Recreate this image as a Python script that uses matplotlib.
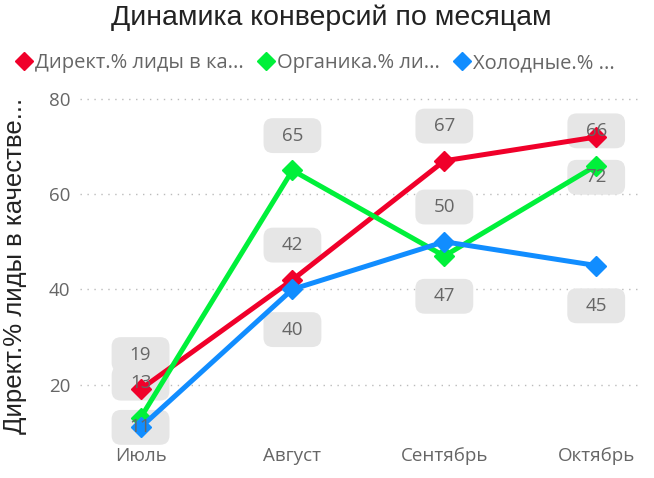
import matplotlib.pyplot as plt
from matplotlib.lines import Line2D

# Данные графика
месяцы = ['Июль', 'Август', 'Сентябрь', 'Октябрь']
директ = [19, 42, 67, 72]
органика = [13, 65, 47, 66]
холодные = [11, 40, 50, 45]

# подписи в легенде (обрезаны как в Power BI)
легенда = ['Директ.% лиды в ка...', 'Органика.% ли...', 'Холодные.% ...']
цвета = ['#F0002A', '#00F03A', '#118DFF']

# куда ставить подпись: 1 - над точкой, -1 - под точкой, 0 - на точке
направления = [
    [1, 1, 1, -1],   # директ
    [1, 1, -1, 1],   # органика
    [0, -1, 1, -1],  # холодные
]

fig = plt.figure(figsize=(6.54, 4.78), dpi=100)
ax = fig.add_axes([0.122, 0.086, 0.857, 0.715])

x = range(len(месяцы))
for ряд, цвет in zip([директ, органика, холодные], цвета):
    ax.plot(x, ряд, color=цвет, lw=3.6, marker='D', markersize=10,
            solid_joinstyle='miter', zorder=3)

# подписи данных: серая плашка под линиями, цифры поверх
for ряд, нн in zip([директ, органика, холодные], направления):
    for i, н in enumerate(нн):
        смещение = {1: 25, -1: -29, 0: 0}[н]
        ax.annotate('  %d  ' % ряд[i], (i, ряд[i]), xytext=(0, смещение),
                    textcoords='offset points', ha='center', va='center',
                    fontsize=13.5, color='none', family='Open Sans',
                    bbox=dict(boxstyle='round,pad=0.45,rounding_size=0.5',
                              fc='#E6E6E6', ec='none'),
                    zorder=2)
        ax.annotate('%d' % ряд[i], (i, ряд[i]), xytext=(0, смещение),
                    textcoords='offset points', ha='center', va='center',
                    fontsize=13.5, color='#666666', family='Open Sans',
                    zorder=5)

ax.set_xlim(-0.40, 3.29)
ax.set_ylim(9, 80.8)
ax.set_yticks([20, 40, 60, 80])
ax.set_xticks(list(x))
ax.set_xticklabels(месяцы)
ax.grid(axis='y', linestyle=(0, (1, 4)), color='#BBBBBB', lw=1)
ax.set_axisbelow(True)
for s in ax.spines.values():
    s.set_visible(False)
ax.tick_params(length=0, labelsize=13.5, labelcolor='#666666', pad=7)
for t in ax.get_xticklabels() + ax.get_yticklabels():
    t.set_family('Open Sans')

ax.set_ylabel('Директ.% лиды в качестве...', family='Liberation Sans',
              fontsize=18.5, color='#222222')
ax.yaxis.set_label_coords(-0.095, 0.5)

fig.text(0.506, 0.963, 'Динамика конверсий по месяцам', ha='center', va='center',
         family='Liberation Sans', fontsize=20.5, color='#222222')

ручки = [Line2D([], [], ls='none', marker='D', color=c, markersize=9) for c in цвета]
fig.legend(ручки, легенда, loc='center left', bbox_to_anchor=(0.0, 0.868),
           ncol=3, frameon=False, handlelength=0.6, handletextpad=0.25,
           columnspacing=0.8, prop={'family': 'Open Sans', 'size': 14.5},
           labelcolor='#666666')

fig.savefig('out.png', dpi=100)
